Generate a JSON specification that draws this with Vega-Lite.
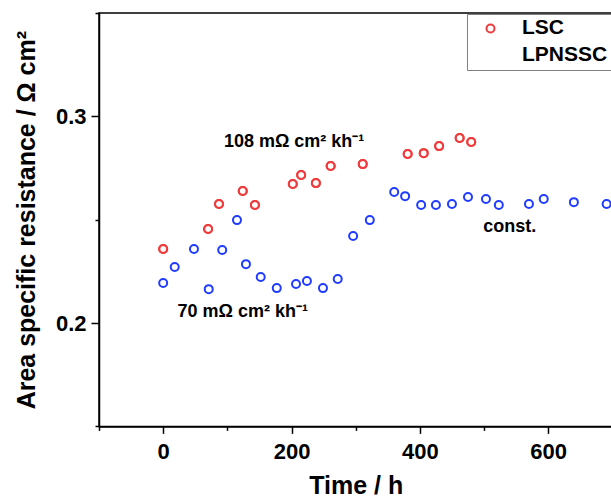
{
  "$schema": "https://vega.github.io/schema/vega-lite/v6.json",
  "width": 513.4,
  "height": 413.4,
  "autosize": "none",
  "padding": {"left": 99, "top": 13, "right": 0, "bottom": 72},
  "background": "white",
  "config": {
    "font": "Liberation Sans",
    "view": {"stroke": "black", "strokeWidth": 1.5}
  },
  "datasets": {
    "pts": [
      {"series": "LSC", "t": 0, "v": 0.2358},
      {"series": "LSC", "t": 70, "v": 0.2455},
      {"series": "LSC", "t": 87, "v": 0.2576},
      {"series": "LSC", "t": 124, "v": 0.2639},
      {"series": "LSC", "t": 143, "v": 0.2571},
      {"series": "LSC", "t": 202, "v": 0.2673},
      {"series": "LSC", "t": 215, "v": 0.2716},
      {"series": "LSC", "t": 238, "v": 0.2677},
      {"series": "LSC", "t": 261, "v": 0.2760},
      {"series": "LSC", "t": 311, "v": 0.2769},
      {"series": "LSC", "t": 381, "v": 0.2818},
      {"series": "LSC", "t": 406, "v": 0.2822},
      {"series": "LSC", "t": 430, "v": 0.2856},
      {"series": "LSC", "t": 462, "v": 0.2895},
      {"series": "LSC", "t": 480, "v": 0.2876},
      {"series": "LPNSSC", "t": 0, "v": 0.2194},
      {"series": "LPNSSC", "t": 18, "v": 0.2271},
      {"series": "LPNSSC", "t": 48, "v": 0.2358},
      {"series": "LPNSSC", "t": 71, "v": 0.2164},
      {"series": "LPNSSC", "t": 92, "v": 0.2353},
      {"series": "LPNSSC", "t": 115, "v": 0.2498},
      {"series": "LPNSSC", "t": 129, "v": 0.2285},
      {"series": "LPNSSC", "t": 152, "v": 0.2223},
      {"series": "LPNSSC", "t": 177, "v": 0.2169},
      {"series": "LPNSSC", "t": 207, "v": 0.2189},
      {"series": "LPNSSC", "t": 224, "v": 0.2203},
      {"series": "LPNSSC", "t": 249, "v": 0.2169},
      {"series": "LPNSSC", "t": 272, "v": 0.2213},
      {"series": "LPNSSC", "t": 296, "v": 0.2421},
      {"series": "LPNSSC", "t": 322, "v": 0.2498},
      {"series": "LPNSSC", "t": 360, "v": 0.2634},
      {"series": "LPNSSC", "t": 377, "v": 0.2614},
      {"series": "LPNSSC", "t": 402, "v": 0.2571},
      {"series": "LPNSSC", "t": 425, "v": 0.2571},
      {"series": "LPNSSC", "t": 450, "v": 0.2576},
      {"series": "LPNSSC", "t": 475, "v": 0.2610},
      {"series": "LPNSSC", "t": 503, "v": 0.2600},
      {"series": "LPNSSC", "t": 523, "v": 0.2571},
      {"series": "LPNSSC", "t": 570, "v": 0.2576},
      {"series": "LPNSSC", "t": 593, "v": 0.2600},
      {"series": "LPNSSC", "t": 640, "v": 0.2585},
      {"series": "LPNSSC", "t": 691, "v": 0.2576}
    ],
    "notes": [
      {"t": 204, "v": 0.2851, "label": "108 mΩ cm² kh⁻¹"},
      {"t": 124, "v": 0.2029, "label": "70 mΩ cm² kh⁻¹"},
      {"t": 540, "v": 0.2442, "label": "const."}
    ]
  },
  "encoding": {
    "x": {
      "field": "t",
      "type": "quantitative",
      "scale": {"domain": [-100, 700], "nice": false, "zero": false},
      "axis": {
        "title": "Time / h",
        "values": [-100, 0, 100, 200, 300, 400, 500, 600, 700],
        "labelExpr": "datum.value % 200 === 0 ? format(datum.value, 'd') : ''",
        "grid": false,
        "domainColor": "black",
        "domainWidth": 1.5,
        "tickColor": "black",
        "tickWidth": 1.5,
        "tickSize": {"condition": {"test": "datum.value % 200 === 0", "value": 7}, "value": 4},
        "labelFont": "Liberation Sans",
        "labelFontSize": 22,
        "labelFontWeight": "bold",
        "labelColor": "black",
        "labelPadding": 8,
        "labelFlush": false,
        "labelOverlap": false,
        "titleFont": "Liberation Sans",
        "titleFontSize": 25,
        "titleFontWeight": "bold",
        "titleColor": "black",
        "titlePadding": 11
      }
    },
    "y": {
      "field": "v",
      "type": "quantitative",
      "scale": {"domain": [0.15, 0.35], "nice": false, "zero": false},
      "axis": {
        "title": "Area specific resistance / Ω cm²",
        "values": [0.15, 0.2, 0.25, 0.3, 0.35],
        "labelExpr": "abs(datum.value * 10 - round(datum.value * 10)) < 0.01 ? format(datum.value, '.1f') : ''",
        "grid": false,
        "domainColor": "black",
        "domainWidth": 1.5,
        "tickColor": "black",
        "tickWidth": 1.5,
        "tickSize": {"condition": {"test": "abs(datum.value * 10 - round(datum.value * 10)) < 0.01", "value": 8}, "value": 4},
        "labelFont": "Liberation Sans",
        "labelFontSize": 22,
        "labelFontWeight": "bold",
        "labelColor": "black",
        "labelPadding": 5,
        "labelFlush": false,
        "labelOverlap": false,
        "titleFont": "Liberation Sans",
        "titleFontSize": 25,
        "titleFontWeight": "bold",
        "titleColor": "black",
        "titlePadding": 16
      }
    }
  },
  "layer": [
    {
      "data": {"name": "pts"},
      "mark": {"type": "point", "shape": "circle", "filled": false, "size": 64, "strokeWidth": 2, "opacity": 1},
      "encoding": {
        "color": {
          "field": "series",
          "type": "nominal",
          "scale": {"domain": ["LPNSSC", "LSC"], "range": ["#1f3cff", "#f03c3c"]},
          "legend": null
        }
      }
    },
    {
      "data": {"name": "pts"},
      "mark": {"type": "point", "shape": "circle", "filled": false, "size": 64, "strokeWidth": 2, "opacity": 1},
      "encoding": {
        "stroke": {
          "field": "series",
          "type": "nominal",
          "scale": {"domain": ["LSC", "LPNSSC"], "range": ["#f03c3c", "transparent"]},
          "legend": {
            "orient": "none",
            "legendX": 368,
            "legendY": 1,
            "title": null,
            "padding": 4,
            "strokeColor": "#808080",
            "fillColor": "white",
            "symbolType": "circle",
            "symbolFillColor": "transparent",
            "symbolStrokeWidth": 2,
            "symbolSize": 64,
            "symbolOffset": 9,
            "labelOffset": 21,
            "rowPadding": 5,
            "labelFont": "Liberation Sans",
            "labelFontSize": 21,
            "labelFontWeight": "bold",
            "labelColor": "black"
          }
        }
      }
    },
    {
      "data": {"name": "notes"},
      "mark": {"type": "text", "font": "Liberation Sans", "fontSize": 18, "fontWeight": "bold", "color": "black", "align": "center", "baseline": "alphabetic"},
      "encoding": {
        "text": {"field": "label", "type": "nominal"}
      }
    }
  ]
}
